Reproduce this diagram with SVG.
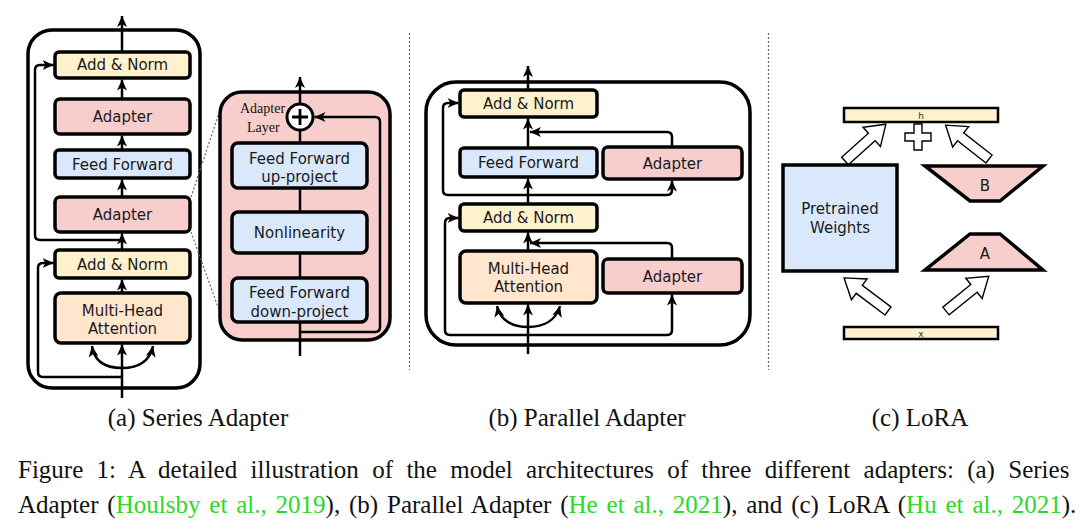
<svg xmlns="http://www.w3.org/2000/svg" width="1080" height="528" viewBox="0 0 1080 528">
<defs>
<style>
.box{stroke:#000;stroke-width:3.5}
.yel{fill:#fff2cc}.pink{fill:#f8cecc}.blue{fill:#dae8fc}.orange{fill:#ffe6cc}
.lbl{font-family:"DejaVu Sans",sans-serif;font-size:15px;fill:#1a1a1a;text-anchor:middle}
.ln{fill:none;stroke:#000;stroke-width:2.5}
.ar{marker-end:url(#ah)}
.frame{fill:none;stroke:#000;stroke-width:3.5}
.dot{fill:none;stroke:#666;stroke-width:1.2;stroke-dasharray:2 2}
.blk{fill:#fff;stroke:#000;stroke-width:1.4}
.serif{font-family:"Liberation Serif",serif;fill:#111}
.grn{fill:#2ad92a}
</style>
<marker id="ah" markerUnits="userSpaceOnUse" markerWidth="12" markerHeight="10" refX="11" refY="5" orient="auto">
<path d="M0,0 L11,5 L0,10 L3,5 Z" fill="#000"/>
</marker>
<path id="barrow" d="M0,-5 L36,-5 L36,-13 L55,0 L36,13 L36,5 L0,5 Z"/>
</defs>
<rect width="1080" height="528" fill="#fff"/>

<!-- separators -->
<line class="dot" x1="409.5" y1="33" x2="409.5" y2="370"/>
<line class="dot" x1="768.5" y1="33" x2="768.5" y2="370"/>

<!-- (a) Series Adapter -->
<g id="series-frame"><rect class="frame" x="28" y="30" width="172" height="358" rx="24"/></g>
<g id="connectors-a">
<path class="ln ar" d="M122,398 V344.5"/>
<path class="ln ar" d="M122,293 V279.5"/>
<path class="ln ar" d="M122,250 V233.5"/>
<path class="ln ar" d="M122,197 V179.5"/>
<path class="ln ar" d="M122,150 V135.5"/>
<path class="ln ar" d="M122,99 V79.5"/>
<path class="ln ar" d="M122,52 V16"/>
<path class="ln ar" d="M122,368 C104,368 94,360 92,346"/>
<path class="ln ar" d="M122,368 C140,368 150,360 153,346"/>
<path class="ln ar" d="M122,377 H43 Q38,377 38,372 V268 Q38,263 43,263 H53.5"/>
<path class="ln ar" d="M122,240 H40 Q35,240 35,235 V70 Q35,65 40,65 H53.5"/>
<path class="dot" d="M191,197 L222,104"/>
<path class="dot" d="M191,232 L222,318"/>
</g>
<g id="a-addnorm1"><rect class="box yel" x="55" y="52" width="135" height="26" rx="4"/><text class="lbl" x="122.5" y="70">Add &amp; Norm</text></g>
<g id="a-adapter1"><rect class="box pink" x="55" y="99" width="135" height="35" rx="5"/><text class="lbl" x="122.5" y="122">Adapter</text></g>
<g id="a-ff"><rect class="box blue" x="55" y="150" width="135" height="28" rx="4"/><text class="lbl" x="122.5" y="169.5">Feed Forward</text></g>
<g id="a-adapter2"><rect class="box pink" x="55" y="197" width="135" height="35" rx="5"/><text class="lbl" x="122.5" y="220">Adapter</text></g>
<g id="a-addnorm2"><rect class="box yel" x="55" y="250" width="135" height="28" rx="4"/><text class="lbl" x="122.5" y="269.5">Add &amp; Norm</text></g>
<g id="a-mha"><rect class="box orange" x="55" y="293" width="135" height="50" rx="6"/><text class="lbl" x="122.5" y="315.5">Multi-Head</text><text class="lbl" x="122.5" y="333.5">Attention</text></g>

<!-- Adapter layer -->
<g id="adapter-layer"><rect class="frame" style="fill:#f8cecc" x="220" y="92" width="170" height="248" rx="22"/>
<text class="serif" x="240" y="113" font-size="14">Adapter</text>
<text class="serif" x="247" y="132" font-size="14">Layer</text></g>
<g id="connectors-layer">
<path class="ln" d="M300,356 V130"/>
<path class="ln ar" d="M300,104 V77"/>
<path class="ln ar" d="M300,332 H375 Q380,332 380,327 V122 Q380,117 375,117 H314.5"/>
</g>
<g id="plus-node"><circle cx="300" cy="117" r="13" fill="#fff" stroke="#000" stroke-width="3"/><path d="M292,117 H308 M300,109 V125" stroke="#000" stroke-width="2.8"/></g>
<g id="l-up"><rect class="box blue" x="232" y="143" width="135" height="45" rx="6"/><text class="lbl" x="299.5" y="163.5">Feed Forward</text><text class="lbl" x="299.5" y="181.5">up-project</text></g>
<g id="l-nonlin"><rect class="box blue" x="232" y="212" width="135" height="41" rx="6"/><text class="lbl" x="299.5" y="238">Nonlinearity</text></g>
<g id="l-down"><rect class="box blue" x="232" y="278" width="135" height="44" rx="6"/><text class="lbl" x="299.5" y="297.5">Feed Forward</text><text class="lbl" x="299.5" y="316.5">down-project</text></g>

<!-- (b) Parallel Adapter -->
<g id="parallel-frame"><rect class="frame" x="426" y="82" width="324" height="263" rx="30"/></g>
<g id="connectors-b">
<path class="ln ar" d="M528,354 V304.5"/>
<path class="ln ar" d="M528,251 V232.5"/>
<path class="ln ar" d="M528,204 V178.5"/>
<path class="ln ar" d="M528,148 V118.5"/>
<path class="ln ar" d="M528,90 V66"/>
<path class="ln ar" d="M528,327 C512,327 500,320 497,306"/>
<path class="ln ar" d="M528,327 C544,327 556,320 560,306"/>
<path class="ln ar" d="M672,147 V137 Q672,132 667,132 H530"/>
<path class="ln ar" d="M672,259 V248 Q672,243 667,243 H530"/>
<path class="ln ar" d="M528,195 H448 Q443,195 443,190 V108 Q443,103 448,103 H458.5"/>
<path class="ln ar" d="M528,195 H667 Q672,195 672,190 V180.5"/>
<path class="ln ar" d="M528,335 H450 Q445,335 445,330 V223 Q445,218 450,218 H458.5"/>
<path class="ln ar" d="M528,335 H667 Q672,335 672,330 V294.5"/>
</g>
<g id="b-addnorm1"><rect class="box yel" x="460" y="90" width="137" height="27" rx="4"/><text class="lbl" x="528.5" y="109">Add &amp; Norm</text></g>
<g id="b-ff"><rect class="box blue" x="460" y="148" width="137" height="29" rx="4"/><text class="lbl" x="528.5" y="168">Feed Forward</text></g>
<g id="b-adapter1"><rect class="box pink" x="603" y="147" width="139" height="32" rx="5"/><text class="lbl" x="672.5" y="168.5">Adapter</text></g>
<g id="b-addnorm2"><rect class="box yel" x="460" y="204" width="137" height="27" rx="4"/><text class="lbl" x="528.5" y="223">Add &amp; Norm</text></g>
<g id="b-mha"><rect class="box orange" x="460" y="251" width="137" height="52" rx="6"/><text class="lbl" x="528.5" y="273.5">Multi-Head</text><text class="lbl" x="528.5" y="291.5">Attention</text></g>
<g id="b-adapter2"><rect class="box pink" x="603" y="259" width="139" height="34" rx="5"/><text class="lbl" x="672.5" y="281.5">Adapter</text></g>

<!-- (c) LoRA -->
<g id="connectors-c">
<use href="#barrow" class="blk" transform="translate(845,161) rotate(-42)"/>
<use href="#barrow" class="blk" transform="translate(989,159) rotate(-142)"/>
<use href="#barrow" class="blk" transform="translate(888,311) rotate(-143)"/>
<use href="#barrow" class="blk" transform="translate(946,311) rotate(-39)"/>
</g>
<g id="c-h"><rect x="844" y="108" width="154" height="14" fill="#fff2cc" stroke="#000" stroke-width="2.5"/><text x="921" y="119" font-family="DejaVu Sans,sans-serif" font-size="9" text-anchor="middle" fill="#333">h</text></g>
<g id="c-plus"><path d="M914,124 H922 V133 H931 V141 H922 V150 H914 V141 H905 V133 H914 Z" fill="#fff" stroke="#000" stroke-width="1.4"/></g>
<g id="c-pretrained"><rect x="783" y="165" width="114" height="106" fill="#dae8fc" stroke="#000" stroke-width="3.5"/><text class="lbl" x="840" y="213.5">Pretrained</text><text class="lbl" x="840" y="232.5">Weights</text></g>
<g id="c-B"><polygon points="925,166 1043,166 1000,201 970,201" fill="#f8cecc" stroke="#000" stroke-width="3.5" stroke-linejoin="miter"/><text class="lbl" x="985" y="190.5">B</text></g>
<g id="c-A"><polygon points="970,234 1000,234 1043,270 925,270" fill="#f8cecc" stroke="#000" stroke-width="3.5"/><text class="lbl" x="985" y="258.5">A</text></g>
<g id="c-x"><rect x="844" y="327" width="154" height="12" fill="#fff2cc" stroke="#000" stroke-width="2.5"/><text x="921" y="337" font-family="DejaVu Sans,sans-serif" font-size="9" text-anchor="middle" fill="#333">x</text></g>

<!-- captions -->
<g id="captions">
<text class="serif" x="198" y="426" font-size="25" text-anchor="middle">(a) Series Adapter</text>
<text class="serif" x="587" y="426" font-size="25" text-anchor="middle">(b) Parallel Adapter</text>
<text class="serif" x="920" y="426" font-size="25" text-anchor="middle">(c) LoRA</text>
<text class="serif" x="18" y="478" font-size="25" word-spacing="7.1">Figure 1: A detailed illustration of the model architectures of three different adapters: (a) Series</text>
<text class="serif" x="18" y="513" font-size="25" word-spacing="2.6">Adapter (<tspan class="grn">Houlsby et al., 2019</tspan>), (b) Parallel Adapter (<tspan class="grn">He et al., 2021</tspan>), and (c) LoRA (<tspan class="grn">Hu et al., 2021</tspan>).</text>
</g>
</svg>
